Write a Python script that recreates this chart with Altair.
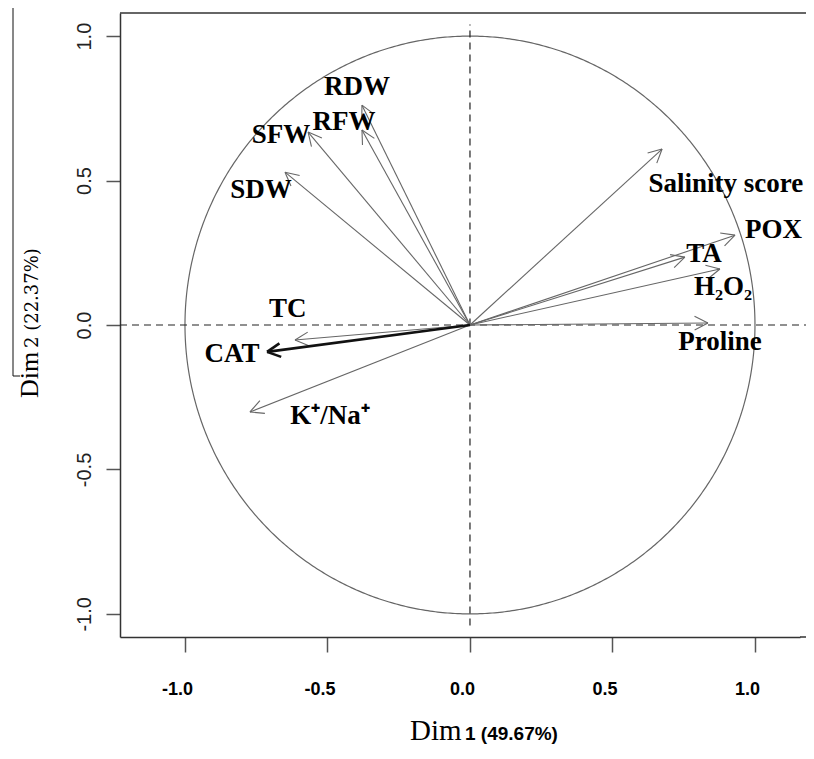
import altair as alt
import pandas as pd
import numpy as np

# ---- data (PCA correlation circle) ----
variables = ["RDW", "RFW", "SFW", "SDW", "TC", "CAT", "K+/Na+",
             "Salinity score", "POX", "TA", "H2O2", "Proline"]
labels = ["RDW", "RFW", "SFW", "SDW", "TC", "CAT", "K\u207a/Na\u207a",
          "Salinity score", "POX", "TA", "H\u2082O\u2082", "Proline"]
dim1 = [-0.379, -0.379, -0.568, -0.649, -0.614, -0.712, -0.772,
        0.674, 0.930, 0.754, 0.877, 0.835]
dim2 = [0.761, 0.675, 0.668, 0.529, -0.052, -0.093, -0.301,
        0.609, 0.311, 0.235, 0.194, 0.007]
label_x = [-0.396, -0.442, -0.663, -0.733, -0.639, -0.835, -0.491,
           0.898, 1.065, 0.821, 0.888, 0.877]
label_y = [0.824, 0.702, 0.657, 0.467, 0.055, -0.100, -0.315,
           0.488, 0.329, 0.246, 0.131, -0.059]
tick_values = [-1.0, -0.5, 0.0, 0.5, 1.0]
x_title_main, x_title_sub = "Dim", "1 (49.67%)"
y_title_main, y_title_sub = "Dim", "2 (22.37%)"

W, H = 680, 624
XDOM = [-1.228, 1.158]
YDOM = [-1.08, 1.08]
SX = W / (XDOM[1] - XDOM[0])
SY = H / (YDOM[1] - YDOM[0])

# ---- arrow segments (shaft + open V head) ----
rows = []
head_len, head_ang = 15.0, np.radians(27)
for v, x, y in zip(variables, dim1, dim2):
    rows.append(dict(var=v, x=0.0, y=0.0, x2=x, y2=y))
    px, py = x * SX, y * SY
    n = np.hypot(px, py)
    ux, uy = px / n, py / n
    for s in (1, -1):
        c, sn = np.cos(s * head_ang), np.sin(s * head_ang)
        rx, ry = ux * c - uy * sn, ux * sn + uy * c
        rows.append(dict(var=v, x=x, y=y,
                         x2=x - head_len * rx / SX, y2=y - head_len * ry / SY))
seg = pd.DataFrame(rows)

t = np.linspace(0, 2 * np.pi, 721)
circle = pd.DataFrame({"cx": np.cos(t), "cy": np.sin(t), "o": np.arange(len(t))})
lab = pd.DataFrame({"lx": label_x, "ly": label_y, "label": labels})

lexpr = "(datum.value < 0 ? '-' : '') + format(abs(datum.value), '.1f')"
xscale = alt.Scale(domain=XDOM, nice=False, zero=False)
yscale = alt.Scale(domain=YDOM, nice=False, zero=False)
xaxis = alt.Axis(values=tick_values, labelExpr=lexpr, title=None, grid=False,
                 tickSize=15, tickColor="#555", tickWidth=1.5,
                 domainColor="#333", domainWidth=1.5,
                 labelFont="Liberation Sans", labelFontWeight="bold",
                 labelFontSize=18, labelColor="black", labelPadding=28,
                 labelOffset=-8, labelFlush=False, labelOverlap=False)
yaxis = alt.Axis(values=tick_values, labelExpr=lexpr, title=None, grid=False,
                 tickSize=14, tickColor="#555", tickWidth=1.5,
                 domainColor="#333", domainWidth=1.5,
                 labelFont="Liberation Sans Narrow, Liberation Sans",
                 labelFontSize=20, labelColor="#222", labelAngle=270,
                 labelAlign="center", labelBaseline="alphabetic",
                 labelPadding=16, labelFlush=False, labelOverlap=False)


def X(f):
    return alt.X(f, type="quantitative", scale=xscale, axis=xaxis)


def Y(f):
    return alt.Y(f, type="quantitative", scale=yscale, axis=yaxis)


circ = alt.Chart(circle).mark_line(color="#666", strokeWidth=1.2).encode(
    x=X("cx"), y=Y("cy"), order="o:Q")

hdash = alt.Chart(pd.DataFrame({"h": [0.0]})).mark_rule(
    color="#222", strokeWidth=1.2, strokeDash=[7, 5]).encode(
    y=Y("h"), x=alt.value(0), x2=alt.value(W + 6))
vdash = alt.Chart(pd.DataFrame({"v": [0.0], "a": [-1.04], "b": [1.04]})).mark_rule(
    color="#222", strokeWidth=1.2, strokeDash=[7, 5]).encode(
    x=X("v"), y=Y("a"), y2="b")

arrows = alt.Chart(seg).transform_filter("datum.var != 'CAT'").mark_rule(
    color="#666", strokeWidth=1.1).encode(x=X("x"), y=Y("y"), x2="x2", y2="y2")
cat = alt.Chart(seg).transform_filter("datum.var == 'CAT'").mark_rule(
    color="#111", strokeWidth=2.6).encode(x=X("x"), y=Y("y"), x2="x2", y2="y2")

texts = alt.Chart(lab).mark_text(
    font="Liberation Serif", fontWeight="bold", fontSize=27,
    align="center", baseline="middle", color="black").encode(
    x=X("lx"), y=Y("ly"), text="label:N")

top_frame = alt.Chart(pd.DataFrame({"k": [0]})).mark_rule(
    color="#333", strokeWidth=1.5).encode(
    x=alt.value(0), x2=alt.value(W + 6), y=alt.value(0))
bottom_ext = alt.Chart(pd.DataFrame({"k": [0]})).mark_rule(
    color="#333", strokeWidth=1.5).encode(
    x=alt.value(W), x2=alt.value(W + 6), y=alt.value(H))

xt1 = alt.Chart(pd.DataFrame({"t": [x_title_main]})).mark_text(
    font="Liberation Serif", fontSize=29, align="left", baseline="alphabetic",
    color="black").encode(x=alt.value(290), y=alt.value(727), text="t:N")
xt2 = alt.Chart(pd.DataFrame({"t": [x_title_sub]})).mark_text(
    font="Liberation Sans", fontWeight="bold", fontSize=19, align="left",
    baseline="alphabetic", color="black").encode(
    x=alt.value(345), y=alt.value(727), text="t:N")
yt1 = alt.Chart(pd.DataFrame({"t": [y_title_main]})).mark_text(
    font="Liberation Serif", fontSize=26, align="left", baseline="alphabetic",
    angle=270, color="black").encode(x=alt.value(-82), y=alt.value(385), text="t:N")
yt2 = alt.Chart(pd.DataFrame({"t": [y_title_sub]})).mark_text(
    font="DejaVu Serif", fontSize=18, align="left", baseline="alphabetic",
    angle=270, color="black").encode(x=alt.value(-82), y=alt.value(335), text="t:N")

edge = alt.Chart(pd.DataFrame({"k": [0]})).mark_rule(
    color="#111", strokeWidth=1).encode(
    x=alt.value(-107), y=alt.value(-5), y2=alt.value(363))
edge_tick = alt.Chart(pd.DataFrame({"k": [0]})).mark_rule(
    color="#111", strokeWidth=1).encode(
    x=alt.value(-107), x2=alt.value(-100), y=alt.value(363))

chart = alt.layer(
    circ, hdash, vdash, arrows, cat, texts, top_frame, bottom_ext,
    xt1, xt2, yt1, yt2, edge, edge_tick
).properties(
    width=W, height=H,
    autosize=alt.AutoSizeParams(type="none"),
    padding={"left": 112, "top": 5, "right": 6, "bottom": 110},
    background="white",
).configure_view(stroke="transparent", strokeWidth=0)

chart.save("out.html", embed_options={"renderer": "svg", "actions": False})
